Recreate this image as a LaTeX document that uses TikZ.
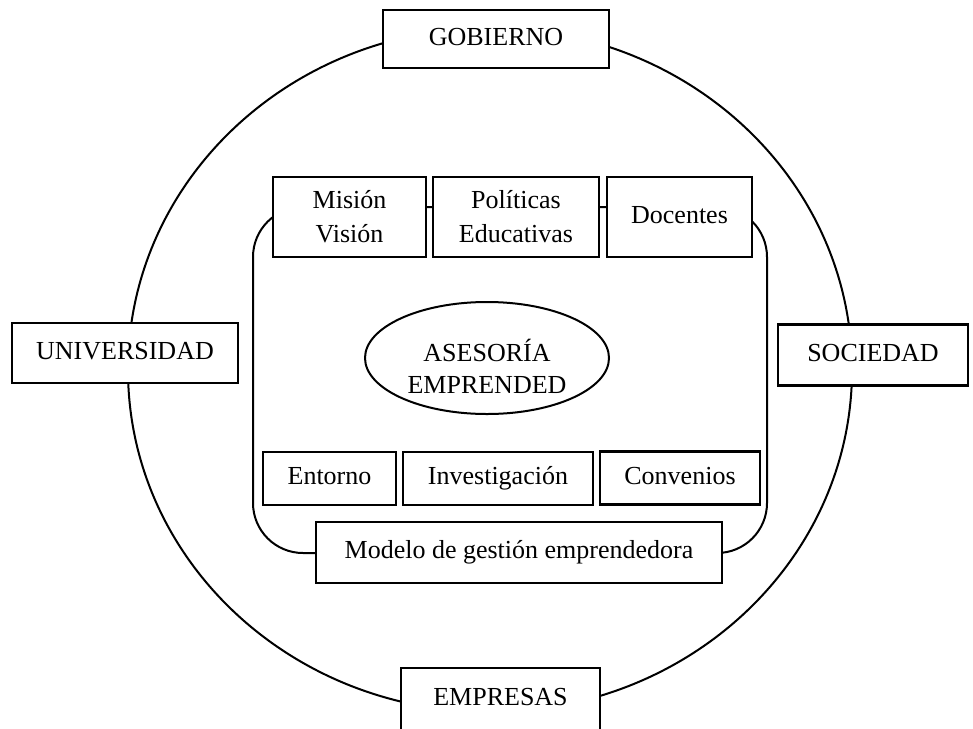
\documentclass[tikz,border=0pt]{standalone}
\usepackage{fontspec}
\setmainfont{Liberation Serif}
\usetikzlibrary{shapes.geometric}
\tikzset{
  boxnode/.style={draw=black, fill=white, line width=2.6pt, inner sep=0pt, align=center,
    font=\fontsize{26}{34}\selectfont},
  onebox/.style={boxnode, text height=18pt, text depth=6pt},
  ovalnode/.style={draw=black, fill=white, ellipse, line width=2pt, inner sep=0pt},
  textnode/.style={inner sep=0pt, align=center, font=\fontsize{26}{32}\selectfont},
}
\begin{document}
\begin{tikzpicture}[x=1pt,y=-1pt]
\useasboundingbox (0,0) rectangle (973,728);
% outer ring
\node[draw=black, line width=2pt, ellipse, inner sep=0pt, minimum width=724pt, minimum height=684pt] (ring) at (490,370) {};
% inner frame
\node[draw=black, line width=2pt, rounded corners=50pt, inner sep=0pt, minimum width=514pt, minimum height=346pt] (frame) at (510,380) {};
% outer boxes
\node[onebox, minimum width=226pt, minimum height=58pt] (gob) at (496,39) {GOBIERNO};
\node[onebox, minimum width=226pt, minimum height=60pt] (uni) at (125,353) {UNIVERSIDAD};
\node[onebox, minimum width=190pt, minimum height=61pt] (soc) at (873,355) {SOCIEDAD};
\node[onebox, minimum width=199pt, minimum height=62pt] (emp) at (500.5,699) {EMPRESAS};
% top inner boxes
\node[boxnode, minimum width=153pt, minimum height=80pt] (mis) at (349.5,217) {Misión\\Visión};
\node[boxnode, minimum width=166pt, minimum height=80pt] (pol) at (516,217) {Políticas\\Educativas};
\node[onebox, minimum width=145pt, minimum height=80pt] (doc) at (679.5,217) {Docentes};
% centre
\node[ovalnode, minimum width=244pt, minimum height=112pt] (ase) at (487,358) {};
\node[textnode] (asetext) at ([yshift=-8pt]ase.center) {ASESORÍA\\EMPRENDED};
% bottom inner boxes
\node[onebox, minimum width=133pt, minimum height=53pt] (ent) at (329.5,478.5) {Entorno};
\node[onebox, minimum width=190pt, minimum height=53pt] (inv) at (498,478.5) {Investigación};
\node[onebox, minimum width=160pt, minimum height=53pt] (con) at (680,478) {Convenios};
\node[onebox, minimum width=406pt, minimum height=61pt] (mod) at (519,552.5) {Modelo de gestión emprendedora};
\end{tikzpicture}
\end{document}
